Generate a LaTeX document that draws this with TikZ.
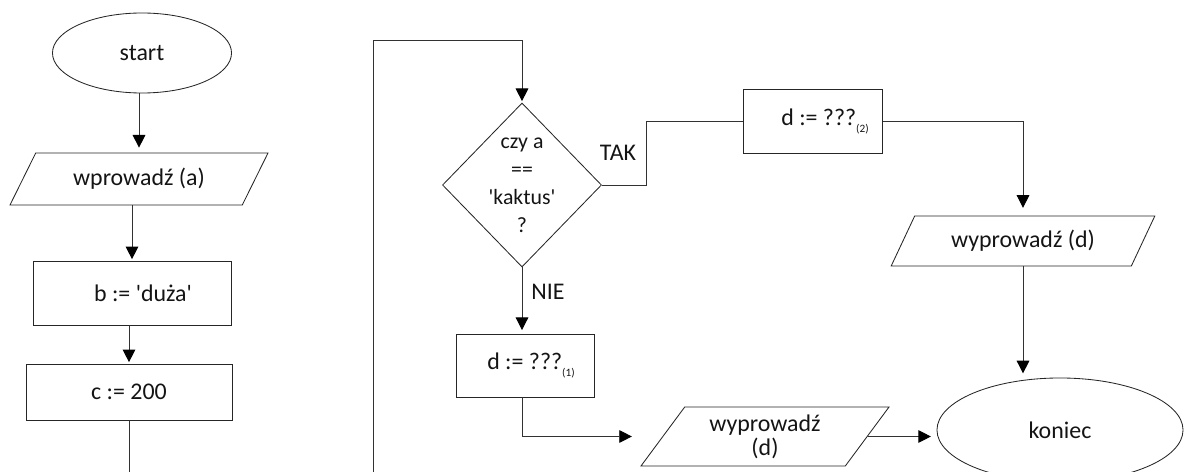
\documentclass[tikz,border=0pt]{standalone}
\usepackage{fontspec}
\setmainfont{Carlito}
\usetikzlibrary{shapes.geometric,arrows.meta}
\definecolor{lin}{RGB}{50,50,50}
\definecolor{txt}{RGB}{20,20,20}
\newcommand{\idx}[1]{\raisebox{-5pt}{\fontsize{8}{9}\selectfont #1}}
\begin{document}
\begin{tikzpicture}[
        x=0.025cm, y=-0.025cm,
        every node/.style={text=txt, font=\fontsize{17}{20}\selectfont},
        shp/.style={draw=black!85, line width=0.6pt, inner sep=2pt},
        term/.style={shp, ellipse},
        proc/.style={shp, rectangle},
        io/.style={shp, trapezium, trapezium stretches=true, align=center},
        decision/.style={shp, diamond, inner sep=0pt},
        conn/.style={draw=lin, line width=0.7pt},
        arr/.style={conn, -{Triangle[length=9pt,width=9pt,color=black]}, shorten >=1pt},
    ]
    \useasboundingbox (0,0) rectangle (1184,472);
    % left column
    \node[term, minimum width=4.475cm, minimum height=2cm] (start) at (142,53) {start};
    \node[io, trapezium left angle=57.6, trapezium right angle=122.4,
        minimum width=6.45cm, minimum height=1.3cm] (inA) at (139,179) {wprowadź (a)};
    \node[proc, minimum width=4.95cm, minimum height=1.6cm] (b) at (132,293)
        {\hspace*{0.55cm}b := \textquotesingle duża\textquotesingle};
    \node[proc, minimum width=5.15cm, minimum height=1.4cm] (c) at (129,392) {c := 200};
    \coordinate (cend) at (130,472);
    \draw[arr, shorten >=3.5pt] (start.south -| inA.north) -- (inA.north);
    \draw[arr] (inA.south -| b.north) -- (b.north);
    \draw[arr] (b.south -| c.north) -- (c.north);
    \draw[conn] (c.south) -- (c.south |- cend);
    % decision
    \node[decision, minimum width=3.975cm, minimum height=4.1cm,
        label={[align=center, text=txt, font=\fontsize{15.5}{19.9}\selectfont]center:czy a\\==\\\textquotesingle kaktus\textquotesingle\\?}]
        (dec) at (522,185) {};
    \coordinate (loopbot) at (373,472);
    \coordinate (looptop) at (373,40);
    \draw[arr] (loopbot) -- (looptop) -| (dec.north);
    \node (tak) at (618,153) {TAK};
    \node (nie) at (548,292) {NIE};
    % TAK branch
    \node[proc, minimum width=3.475cm, minimum height=1.6cm] (box2) at (813,121)
        {\hspace*{0.6cm}d := ???\idx{(2)}};
    \node[io, trapezium left angle=59, trapezium right angle=121,
        minimum width=6.6cm, minimum height=1.25cm] (outB) at (1023,241) {wyprowadź (d)};
    \node[term, minimum width=6.15cm, minimum height=2.6cm] (koniec) at (1060,430) {koniec};
    \draw[conn] (dec.east) -- ++(45,0) |- (box2.west);
    \draw[arr, shorten >=5.5pt] (box2.east) -| (outB.north);
    \draw[arr, shorten >=3pt] (outB.south) -- (outB.south |- koniec.north);
    % NIE branch
    \node[proc, minimum width=3.45cm, minimum height=1.575cm] (box1) at (525,365.5)
        {\hspace*{0.3cm}d := ???\idx{(1)}};
    \node[io, trapezium left angle=57.2, trapezium right angle=122.8,
        minimum width=6.2cm, minimum height=1.475cm] (outA) at (765,436.5) {wyprowadź\\[-3pt](d)};
    \draw[arr, shorten >=2.5pt] (dec.south) -- (dec.south |- box1.north);
    \draw[arr] (box1.south -| dec.south) |- ([xshift=-0.725cm]outA.west);
    \draw[arr, shorten >=4pt] (outA.east) -- (outA.east -| koniec.west);
\end{tikzpicture}
\end{document}
